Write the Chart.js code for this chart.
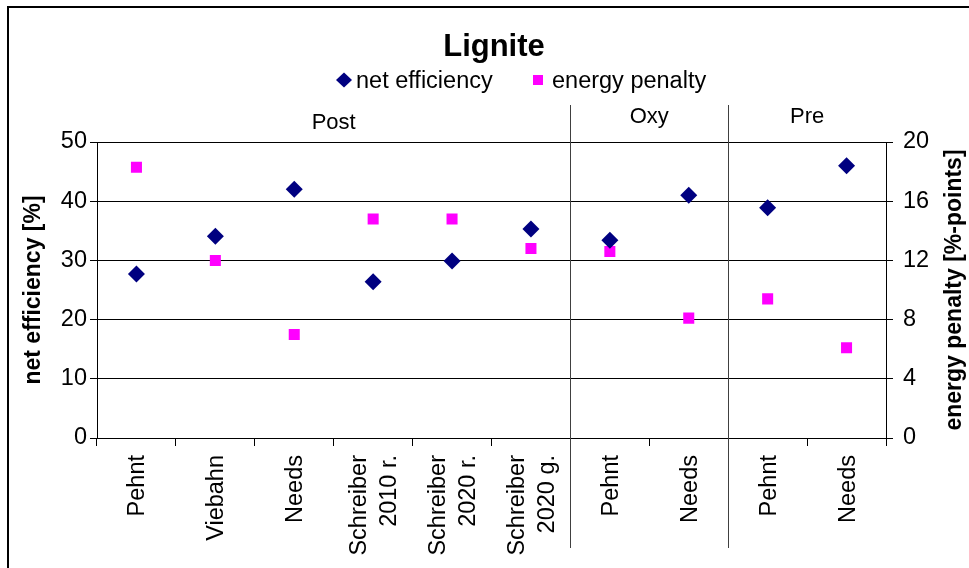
<!DOCTYPE html>
<html>
<head>
<meta charset="utf-8">
<script src="https://cdn.jsdelivr.net/npm/chart.js@4/dist/chart.umd.min.js"></script>
<style>
  html, body { margin: 0; padding: 0; background: #fff; }
  #wrap { position: relative; width: 969px; height: 568px; overflow: hidden; }
  #wrap canvas { position: absolute; left: 0; top: 0; }
  #frame { position: absolute; left: 7px; top: 6px; right: -4px; bottom: -4px;
           border-left: 2px solid #000; border-top: 2px solid #000; }
</style>
</head>
<body>
<div id="wrap">
  <canvas id="chart" width="969" height="568"></canvas>
  <div id="frame"></div>
</div>
<script>
const categories = [['Pehnt'], ['Viebahn'], ['Needs'], ['Schreiber', '2010 r.'], ['Schreiber', '2020 r.'],
                    ['Schreiber', '2020 g.'], ['Pehnt'], ['Needs'], ['Pehnt'], ['Needs']];
const groups = ['Post', 'Oxy', 'Pre'];
const groupSizes = [6, 2, 2];
const netEfficiency = [27.7, 34.1, 42.0, 26.4, 29.9, 35.3, 33.4, 41.0, 38.9, 46.0];
const energyPenalty = [18.3, 12.0, 7.0, 14.8, 14.8, 12.8, 12.6, 8.1, 9.4, 6.1];
const leftTicks = [0, 10, 20, 30, 40, 50];
const rightTicks = [0, 4, 8, 12, 16, 20];

const FONT = '"Liberation Sans", Arial, sans-serif';
Chart.defaults.font.family = FONT;
Chart.defaults.color = '#000';

// title, legend, group labels, separators and the category labels
const decorations = {
  id: 'decorations',
  afterDraw(chart) {
    const ctx = chart.ctx;
    const x = chart.scales.x;
    const area = chart.chartArea;
    ctx.save();
    ctx.fillStyle = '#000';

    ctx.font = 'bold 31px ' + FONT;
    ctx.textAlign = 'center';
    ctx.textBaseline = 'alphabetic';
    ctx.fillText('Lignite', 494, 56);

    // legend
    ctx.font = '23.5px ' + FONT;
    ctx.textAlign = 'left';
    ctx.fillStyle = '#000080';
    ctx.beginPath();
    ctx.moveTo(344, 72.5); ctx.lineTo(352, 80); ctx.lineTo(344, 87.5); ctx.lineTo(336, 80);
    ctx.closePath(); ctx.fill();
    ctx.fillStyle = '#000';
    ctx.fillText('net efficiency', 356, 88);
    ctx.fillStyle = '#ff00ff';
    ctx.fillRect(533, 75, 10, 10);
    ctx.fillStyle = '#000';
    ctx.fillText('energy penalty', 552, 88);

    // groups
    ctx.font = '22px ' + FONT;
    ctx.textAlign = 'center';
    let start = 0;
    groups.forEach((g, i) => {
      const end = start + groupSizes[i];
      const x0 = x.getPixelForValue(start - 0.5);
      const x1 = x.getPixelForValue(end - 0.5);
      ctx.fillText(g, (x0 + x1) / 2, i === 0 ? 129 : 123);
      if (i > 0) {
        ctx.strokeStyle = '#404040';
        ctx.lineWidth = 1;
        ctx.beginPath();
        ctx.moveTo(Math.round(x0) + 0.5, 105);
        ctx.lineTo(Math.round(x0) + 0.5, 548);
        ctx.stroke();
      }
      start = end;
    });

    // category labels, rotated, centred on their category
    ctx.font = '23.5px ' + FONT;
    ctx.textAlign = 'right';
    ctx.textBaseline = 'alphabetic';
    categories.forEach((lines, i) => {
      const cx = x.getPixelForValue(i);
      lines.forEach((line, j) => {
        ctx.save();
        ctx.translate(cx + 8 + (j - (lines.length - 1) / 2) * 30, 455);
        ctx.rotate(-Math.PI / 2);
        ctx.fillText(line, 0, 0);
        ctx.restore();
      });
    });

    // right axis title, reading bottom to top
    ctx.font = 'bold 23px ' + FONT;
    ctx.textAlign = 'center';
    ctx.textBaseline = 'middle';
    ctx.translate(955, (area.top + area.bottom) / 2);
    ctx.rotate(-Math.PI / 2);
    ctx.fillText('energy penalty [%-points]', 0, 0);
    ctx.restore();
  }
};

new Chart(document.getElementById('chart'), {
  type: 'line',
  data: {
    labels: categories,
    datasets: [
      {
        label: 'net efficiency',
        data: netEfficiency,
        yAxisID: 'y',
        showLine: false,
        pointStyle: 'rectRot',
        pointRadius: 8.5,
        pointHoverRadius: 8.5,
        pointBorderWidth: 0,
        backgroundColor: '#000080',
        borderColor: '#000080'
      },
      {
        label: 'energy penalty',
        data: energyPenalty,
        yAxisID: 'y2',
        showLine: false,
        pointStyle: 'rect',
        pointRadius: 7.8,
        pointHoverRadius: 7.8,
        pointBorderWidth: 0,
        backgroundColor: '#ff00ff',
        borderColor: '#ff00ff'
      }
    ]
  },
  options: {
    responsive: false,
    animation: false,
    layout: { padding: { top: 142, left: 0, right: 0, bottom: 0 } },
    plugins: {
      legend: { display: false },
      title: { display: false },
      tooltip: { enabled: false }
    },
    scales: {
      x: {
        offset: true,
        grid: { offset: true, drawOnChartArea: false, color: '#000', tickColor: '#000', tickLength: 8 },
        border: { color: '#000' },
        ticks: { display: false, autoSkip: false },
        afterFit: s => { s.height = 130; }
      },
      y: {
        position: 'left',
        min: 0,
        max: 50,
        afterBuildTicks: s => { s.ticks = leftTicks.map(v => ({ value: v })); },
        grid: { color: '#000', tickColor: '#000', tickLength: 7 },
        border: { color: '#000' },
        ticks: { padding: 3, font: { size: 23.5 } },
        title: { display: true, text: 'net efficiency [%]', font: { size: 23, weight: 'bold' }, padding: { top: 20, bottom: 0 } },
        afterFit: s => { s.width = 97; }
      },
      y2: {
        position: 'right',
        min: 0,
        max: 20,
        afterBuildTicks: s => { s.ticks = rightTicks.map(v => ({ value: v })); },
        grid: { drawOnChartArea: false, color: '#000', tickColor: '#000', tickLength: 7 },
        border: { color: '#000' },
        ticks: { padding: 10, font: { size: 23.5 } },
        afterFit: s => { s.width = 83; }
      }
    }
  },
  plugins: [decorations]
});
</script>
</body>
</html>
